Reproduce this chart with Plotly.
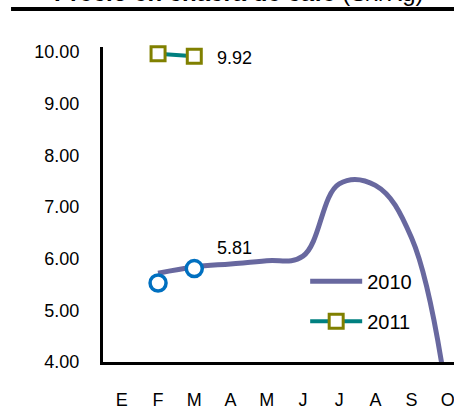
import plotly.graph_objects as go

months = ["E", "F", "M", "A", "M", "J", "J", "A", "S", "O", "N", "D"]
x_idx = list(range(len(months)))

# 2010 series (Feb..Oct)
v2010 = [None, 5.72, 5.84, 5.90, 5.96, 6.05, 7.45, 7.42, 6.40, 3.20, None, None]
# 2011 series
v2011 = [None, 9.97, 9.92, None, None, None, None, None, None, None, None, None]
# highlighted points (circles)
vpts = [None, 5.53, 5.81, None, None, None, None, None, None, None, None, None]

title_text = "<b>Precio en chacra de café</b> (S/./Kg)"
lbl_2011 = "9.92"
lbl_pts = "5.81"

FONT = "Liberation Sans, Arial, sans-serif"

fig = go.Figure()

fig.add_trace(go.Scatter(
    x=x_idx, y=v2010, mode="lines", name="2010",
    line=dict(color="#68689F", width=5, shape="spline", smoothing=1.1),
    connectgaps=False, legendgroup="a",
))
fig.add_trace(go.Scatter(
    x=x_idx, y=v2011, mode="lines+markers", name="2011",
    line=dict(color="#008080", width=4),
    marker=dict(symbol="square", size=14, color="white",
                line=dict(color="#808000", width=3)),
    cliponaxis=False, legendgroup="b",
))
fig.add_trace(go.Scatter(
    x=x_idx, y=vpts, mode="markers", name="pts", showlegend=False,
    marker=dict(symbol="circle", size=16, color="white",
                line=dict(color="#0070C0", width=3.5)),
    cliponaxis=False,
))

fig.add_annotation(x=2, y=v2011[2], text=lbl_2011, showarrow=False,
                   xanchor="left", xshift=21, yshift=-2,
                   font=dict(size=18, color="black", family=FONT))
fig.add_annotation(x=2, y=vpts[2], text=lbl_pts, showarrow=False,
                   xanchor="left", xshift=21, yshift=21,
                   font=dict(size=18, color="black", family=FONT))

fig.add_annotation(xref="paper", yref="paper", x=0.387, y=1.1235,
                   xanchor="center", yanchor="bottom", showarrow=False,
                   text=title_text, font=dict(size=24, color="black", family=FONT))

fig.add_shape(type="line", xref="paper", yref="paper",
              x0=-0.262, x1=1.0, y0=1.1206, y1=1.1206,
              line=dict(color="black", width=4))

fig.update_layout(
    width=454, height=408,
    margin=dict(l=103, r=0, t=47, b=46, autoexpand=False),
    paper_bgcolor="white", plot_bgcolor="white",
    font=dict(family=FONT, size=18, color="black"),
    showlegend=True,
    legend=dict(x=0.576, y=0.318, xanchor="left", yanchor="top",
                bgcolor="rgba(0,0,0,0)", font=dict(size=20),
                itemwidth=52, tracegroupgap=11),
)
fig.update_xaxes(
    range=[-0.52, 9.17], tickvals=x_idx, ticktext=months,
    showgrid=False, zeroline=False, showline=True, linecolor="black",
    linewidth=3, ticks="", ticklabelstandoff=19, automargin=False,
    ticklabeloverflow="allow",
)
fig.update_yaxes(
    range=[4, 10.1], tickvals=[4, 5, 6, 7, 8, 9, 10], tickformat=".2f",
    showgrid=False, zeroline=False, showline=True, linecolor="black",
    linewidth=3, ticks="", ticklabelstandoff=17, automargin=False,
)

fig.write_html("out.html", config={"displayModeBar": False},
               post_script="document.body.style.margin='0';")
